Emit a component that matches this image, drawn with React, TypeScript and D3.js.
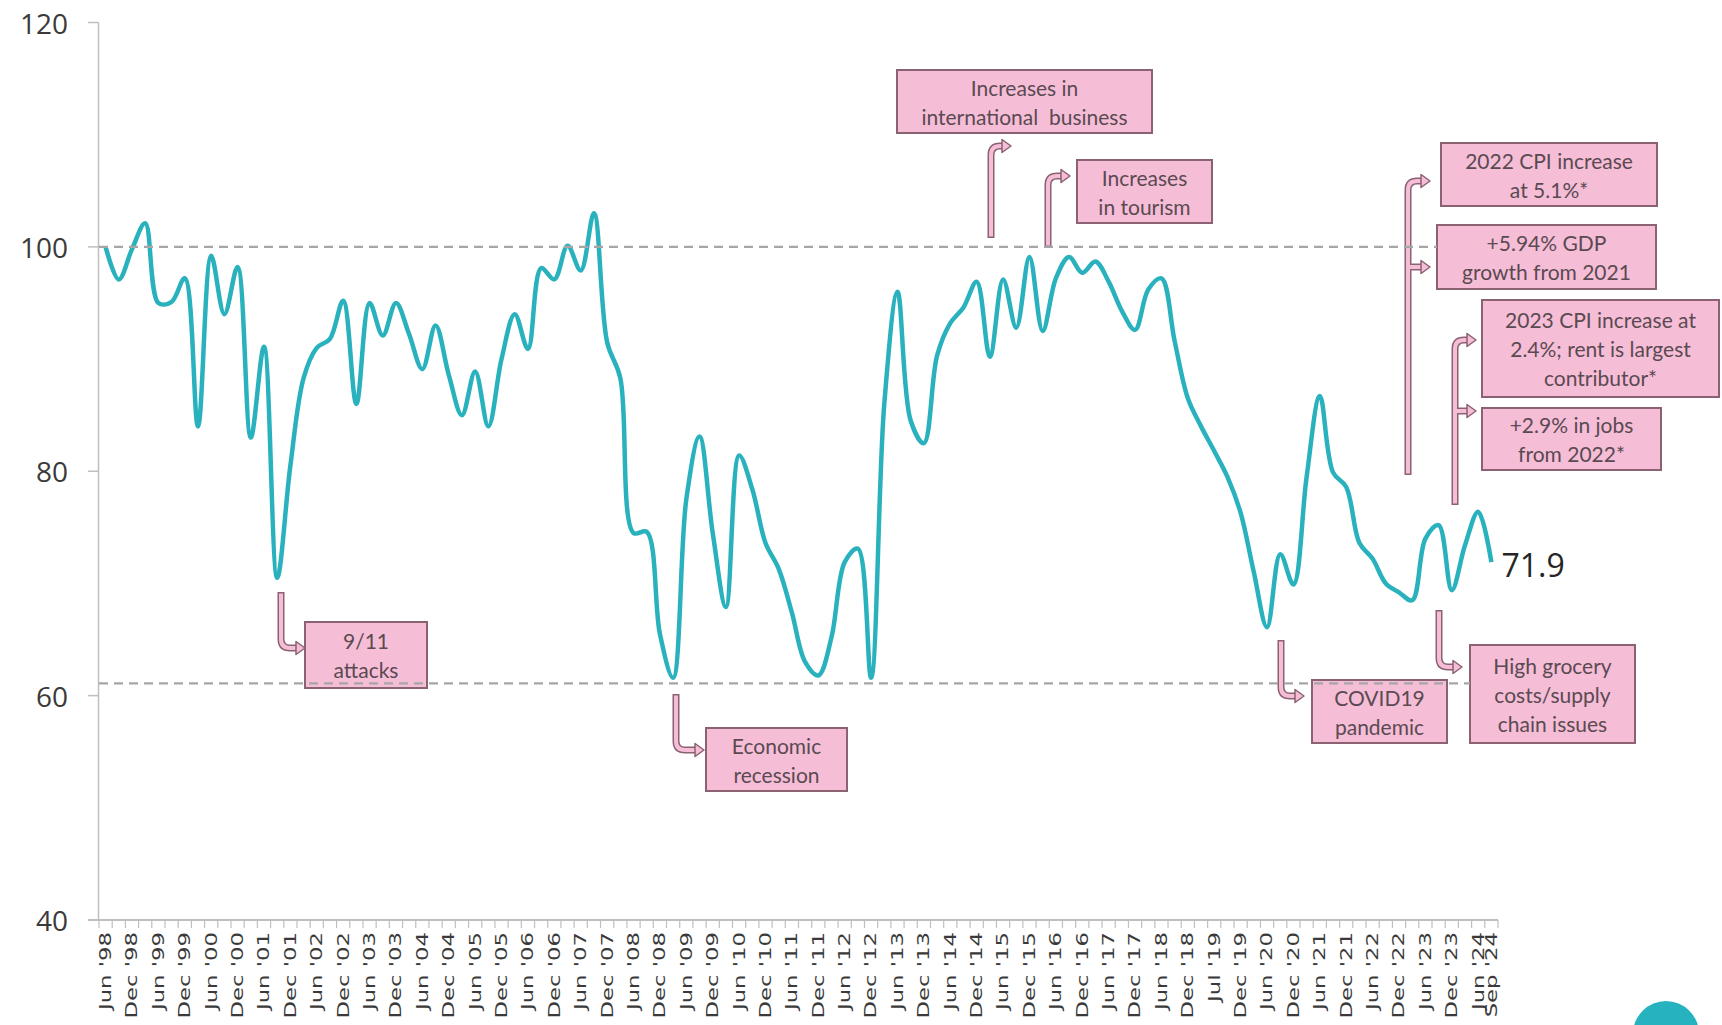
import React, { useEffect, useRef } from 'react'
import * as d3 from 'd3'

// quarterly index values, Jun '98 .. Sep '24
const values = [
  100.0, 97.1, 99.8, 102.1, 95.0, 95.1, 97.2, 84.0, 99.2, 94.0,
  98.2, 83.0, 91.1, 70.5, 80.5, 88.3, 91.0, 91.8, 95.2, 86.0,
  95.0, 92.1, 95.0, 92.2, 89.1, 93.0, 88.6, 85.0, 88.9, 84.0,
  90.0, 94.0, 90.9, 98.1, 97.1, 100.1, 97.9, 103.0, 91.5, 88.3,
  74.5, 74.6, 65.5, 61.6, 77.5, 83.1, 74.5, 67.9, 81.4, 78.4,
  73.6, 71.3, 67.4, 63.0, 61.8, 65.2, 71.9, 73.1, 61.6, 86.0,
  96.0, 84.5, 82.5, 90.3, 93.2, 94.6, 96.9, 90.2, 97.1, 92.8,
  99.1, 92.5, 97.2, 99.1, 97.7, 98.7, 96.9, 94.3, 92.6, 96.2,
  97.2, 91.6, 86.5, 84.0, 81.8, 79.5, 76.3, 71.0, 66.1, 72.6,
  69.9, 79.5, 86.7, 79.9, 78.6, 73.6, 72.2, 70.0, 69.2, 68.5,
  74.0, 75.2, 69.4, 73.4, 76.4, 71.9,
]

const tickLabels = [
  "Jun '98", "Dec '98", "Jun '99", "Dec '99", "Jun '00", "Dec '00", "Jun '01", "Dec '01",
  "Jun '02", "Dec '02", "Jun '03", "Dec '03", "Jun '04", "Dec '04", "Jun '05", "Dec '05",
  "Jun '06", "Dec '06", "Jun '07", "Dec '07", "Jun '08", "Dec '08", "Jun '09", "Dec '09",
  "Jun '10", "Dec '10", "Jun '11", "Dec '11", "Jun '12", "Dec '12", "Jun '13", "Dec '13",
  "Jun '14", "Dec '14", "Jun '15", "Dec '15", "Jun '16", "Dec '16", "Jun '17", "Dec '17",
  "Jun '18", "Dec '18", "Jul '19", "Dec '19", "Jun '20", "Dec '20", "Jun '21", "Dec '21",
  "Jun '22", "Dec '22", "Jun '23", "Dec '23", "Jun '24", "Sep '24",
]

const yTicks = [40, 60, 80, 100, 120]
const refLines = [100, 61.1]
const lastLabel = '71.9'

// annotation boxes (layout in px)
const notes = [
  { lines: ['9/11', 'attacks'], x: 305, y: 622, w: 122, h: 66 },
  { lines: ['Economic', 'recession'], x: 706, y: 728, w: 141, h: 63 },
  { lines: ['Increases in', 'international  business'], x: 897, y: 70, w: 255, h: 63 },
  { lines: ['Increases', 'in tourism'], x: 1077, y: 160, w: 135, h: 63 },
  { lines: ['2022 CPI increase', 'at 5.1%*'], x: 1441, y: 143, w: 216, h: 63 },
  { lines: ['+5.94% GDP', 'growth from 2021'], x: 1437, y: 225, w: 219, h: 64 },
  { lines: ['2023 CPI increase at', '2.4%; rent is largest', 'contributor*'], x: 1482, y: 300, w: 237, h: 97 },
  { lines: ['+2.9% in jobs', 'from 2022*'], x: 1482, y: 408, w: 179, h: 62 },
  { lines: ['COVID19', 'pandemic'], x: 1312, y: 680, w: 135, h: 63 },
  { lines: ['High grocery', 'costs/supply', 'chain issues'], x: 1470, y: 645, w: 165, h: 98 },
]

// bent arrows: vertical at x from y0 to y1, then right to tip
const bentArrows = [
  { x: 281, y0: 592, y1: 648, tip: 305 },
  { x: 676, y0: 694, y1: 750, tip: 704 },
  { x: 991, y0: 238, y1: 146, tip: 1011 },
  { x: 1048, y0: 247, y1: 176, tip: 1070 },
  { x: 1408, y0: 475, y1: 181, tip: 1430 },
  { x: 1455, y0: 505, y1: 340, tip: 1476 },
  { x: 1281, y0: 640, y1: 696, tip: 1304 },
  { x: 1439, y0: 610, y1: 667, tip: 1462 },
]
const branchArrows = [
  { x: 1408, y: 267, tip: 1430 },
  { x: 1455, y: 411, tip: 1476 },
]

const App: React.FC = () => {
  const ref = useRef<SVGSVGElement>(null)

  useEffect(() => {
    const width = 1722
    const height = 1025
    const svg = d3.select(ref.current).attr('width', width).attr('height', height)
    svg.selectAll('*').remove()

    const x = d3.scaleBand<number>().domain(d3.range(values.length)).range([99, 1498]).padding(0)
    const bw = x.bandwidth()
    const cx = (i: number) => (x(i) as number) + bw / 2
    const y = d3.scaleLinear().domain([40, 120]).range([920, 22.5])

    const axisColor = '#bfbfbf'
    const textColor = '#3a3a3a'
    const pink = '#f6bdd7'
    const edge = '#8a6272'

    svg.append('rect').attr('width', width).attr('height', height).attr('fill', '#fff')

    // y axis
    svg.append('line')
      .attr('x1', 98.5).attr('x2', 98.5).attr('y1', y(120)).attr('y2', y(40))
      .attr('stroke', axisColor).attr('stroke-width', 1.5)
    svg.selectAll('.ytick').data(yTicks).enter().append('line')
      .attr('x1', 88).attr('x2', 98.5).attr('y1', (d) => y(d)).attr('y2', (d) => y(d))
      .attr('stroke', axisColor).attr('stroke-width', 1.5)
    svg.selectAll('.ylab').data(yTicks).enter().append('text')
      .attr('x', 68).attr('y', (d) => y(d))
      .attr('text-anchor', 'end').attr('dominant-baseline', 'central')
      .style('font-family', '"Open Sans", sans-serif').style('font-size', '28px')
      .attr('fill', textColor)
      .text((d) => d)

    // x axis
    svg.append('line')
      .attr('x1', 88).attr('x2', 1498).attr('y1', 920).attr('y2', 920)
      .attr('stroke', axisColor).attr('stroke-width', 2)
    const bounds = d3.range(values.length + 1).map((i) => 99 + i * bw)
    svg.selectAll('.xtick').data(bounds).enter().append('line')
      .attr('x1', (d) => d).attr('x2', (d) => d).attr('y1', 920).attr('y2', 928)
      .attr('stroke', axisColor).attr('stroke-width', 1.2)
    const labelIdx = tickLabels.map((_, k) => (k < tickLabels.length - 1 ? k * 2 : values.length - 1))
    svg.selectAll('.xlab').data(tickLabels).enter().append('text')
      .attr('transform', (_, k) => `translate(${cx(labelIdx[k])},932) rotate(-90) scale(1.38,1)`)
      .attr('text-anchor', 'end').attr('dominant-baseline', 'central')
      .style('font-family', '"DejaVu Sans", sans-serif').style('font-size', '16.5px')
      .attr('fill', textColor)
      .text((d) => d)

    // data line
    const line = d3.line<number>()
      .x((_, i) => cx(i))
      .y((d) => y(d))
      .curve(d3.curveCatmullRom.alpha(0.5))
    svg.append('path').datum(values)
      .attr('d', line)
      .attr('fill', 'none').attr('stroke', '#29b2be').attr('stroke-width', 4.5)
      .attr('stroke-linejoin', 'round')

    svg.append('text')
      .attr('x', cx(values.length - 1) + 10).attr('y', y(values[values.length - 1]) + 2)
      .attr('dominant-baseline', 'central')
      .style('font-family', '"Open Sans", sans-serif').style('font-size', '32px')
      .attr('fill', '#262626')
      .text(lastLabel)

    // arrows
    const ag = svg.append('g')
    const head = (tip: number, yy: number) => {
      ag.append('path')
        .attr('d', `M${tip - 9},${yy - 6.5} L${tip},${yy} L${tip - 9},${yy + 6.5} Z`)
        .attr('fill', pink).attr('stroke', edge).attr('stroke-width', 1.5).attr('stroke-linejoin', 'round')
    }
    bentArrows.forEach((a) => {
      const dir = a.y1 > a.y0 ? 1 : -1
      const r = 9
      const shaft = (start: number) =>
        `M${a.x},${start} L${a.x},${a.y1 - dir * r} Q${a.x},${a.y1} ${a.x + r},${a.y1} L${a.tip - 8},${a.y1}`
      ag.append('path').attr('d', shaft(a.y0)).attr('fill', 'none')
        .attr('stroke', edge).attr('stroke-width', 7)
      ag.append('path').attr('d', shaft(a.y0 + dir * 1.5)).attr('fill', 'none')
        .attr('stroke', pink).attr('stroke-width', 4)
      head(a.tip, a.y1)
    })
    branchArrows.forEach((a) => {
      ag.append('path').attr('d', `M${a.x + 2},${a.y} L${a.tip - 8},${a.y}`)
        .attr('stroke', edge).attr('stroke-width', 7)
      ag.append('path').attr('d', `M${a.x + 2},${a.y} L${a.tip - 8},${a.y}`)
        .attr('stroke', pink).attr('stroke-width', 4)
      head(a.tip, a.y)
    })

    // boxes
    const bg = svg.append('g')
    notes.forEach((n) => {
      bg.append('rect')
        .attr('x', n.x).attr('y', n.y).attr('width', n.w).attr('height', n.h)
        .attr('fill', pink).attr('stroke', edge).attr('stroke-width', 2)
      const lh = 29
      const top = n.y + n.h / 2 - ((n.lines.length - 1) * lh) / 2
      n.lines.forEach((t, k) => {
        bg.append('text')
          .attr('x', n.x + n.w / 2).attr('y', top + k * lh)
          .attr('text-anchor', 'middle').attr('dominant-baseline', 'central')
          .style('font-family', 'Lato, sans-serif').style('font-size', '21px')
          .style('white-space', 'pre')
          .attr('fill', '#5a4a51')
          .text(t)
      })
    })

    // dashed reference lines
    svg.selectAll('.ref').data(refLines).enter().append('line')
      .attr('x1', 99).attr('x2', (d) => (d === 100 ? 1437 : 1470))
      .attr('y1', (d) => y(d)).attr('y2', (d) => y(d))
      .attr('stroke', '#a6a6a6').attr('stroke-width', 2.2).attr('stroke-dasharray', '9,6')

    // corner badge
    svg.append('circle').attr('cx', 1666).attr('cy', 1034).attr('r', 33).attr('fill', '#26b3bf')
  }, [])

  return (
    <div style={{ position: 'absolute', left: 0, top: 0, width: 1722, height: 1025, overflow: 'hidden' }}>
      <svg ref={ref} style={{ display: 'block' }} />
    </div>
  )
}

export default App
